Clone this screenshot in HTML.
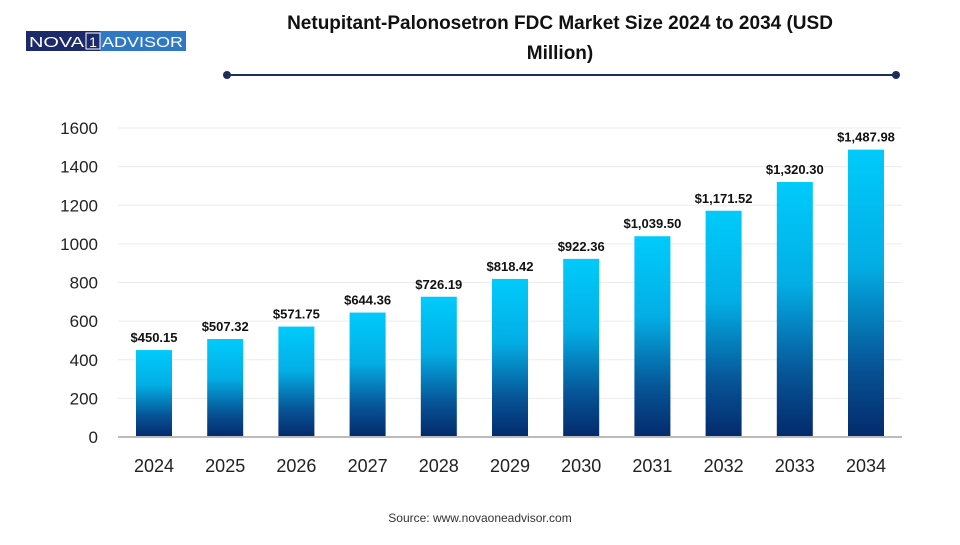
<!DOCTYPE html>
<html><head><meta charset="utf-8"><style>
body{margin:0;background:#fff;width:960px;height:540px;overflow:hidden;font-family:"Liberation Sans",Arial,sans-serif}
</style></head><body>
<svg width="960" height="540" viewBox="0 0 960 540">
<defs>
<linearGradient id="bg" x1="0" y1="0" x2="0" y2="1">
<stop offset="0" stop-color="#00cbfb"/><stop offset="0.4" stop-color="#03aee5"/><stop offset="0.75" stop-color="#065597"/><stop offset="1" stop-color="#042a6c"/>
</linearGradient>
</defs>
<g>
<rect x="26" y="31" width="74" height="20" fill="#1c2a6b"/>
<rect x="100" y="31" width="86" height="20" fill="#2f79c4"/>
<rect x="86" y="33" width="14" height="16" fill="none" stroke="#fff" stroke-width="1"/>
<text x="29" y="47" font-size="15" fill="#fff" textLength="55" lengthAdjust="spacingAndGlyphs">NOVA</text>
<text x="93" y="47" font-size="14" fill="#fff" text-anchor="middle">1</text>
<text x="102" y="47" font-size="15" fill="#fff" textLength="81" lengthAdjust="spacingAndGlyphs">ADVISOR</text>
</g>
<text x="560" y="29" text-anchor="middle" font-size="19" font-weight="bold" fill="#111">Netupitant-Palonosetron FDC Market Size 2024 to 2034 (USD</text>
<text x="560" y="59" text-anchor="middle" font-size="19" font-weight="bold" fill="#111">Million)</text>
<g>
<line x1="227" y1="75" x2="896" y2="75" stroke="#1f2d5a" stroke-width="2"/>
<circle cx="227" cy="75" r="4" fill="#1f2d5a"/><circle cx="896" cy="75" r="4" fill="#1f2d5a"/>
</g>
<g id="grid"></g><g id="bars"></g><g id="axes"></g>
<text x="480" y="522" text-anchor="middle" font-size="12" fill="#333">Source: www.novaoneadvisor.com</text>
</svg>
<script>
const years=["2024","2025","2026","2027","2028","2029","2030","2031","2032","2033","2034"];
const values=[450.15,507.32,571.75,644.36,726.19,818.42,922.36,1039.50,1171.52,1320.30,1487.98];
const valueLabels=["$450.15","$507.32","$571.75","$644.36","$726.19","$818.42","$922.36","$1,039.50","$1,171.52","$1,320.30","$1,487.98"];
const yTicks=[0,200,400,600,800,1000,1200,1400,1600];
const NS="http://www.w3.org/2000/svg";
const y0=437,y1=128,yMax=1600;
const y=v=>y0-(v/yMax)*(y0-y1);
const step=71.2,x=i=>154+i*step,bw=36;
function mk(t,a,p){const e=document.createElementNS(NS,t);for(const k in a)e.setAttribute(k,a[k]);p.appendChild(e);return e;}
const g=document.getElementById('grid'),b=document.getElementById('bars'),ax=document.getElementById('axes');
yTicks.forEach(v=>{
 if(v>0){const l=mk('line',{x1:118,x2:902,y1:y(v),y2:y(v),stroke:'#ececec','stroke-width':1},g);
 
 }
 const t=mk('text',{x:98,y:y(v)+6,'text-anchor':'end','font-size':17,fill:'#222'},ax);t.textContent=v;
 
 
});
const base=mk('line',{x1:118,x2:902,y1:y0,y2:y0,stroke:'#bbb','stroke-width':2},ax);


values.forEach((v,i)=>{
 const r=mk('rect',{x:x(i)-bw/2,y:y(v),width:bw,height:y0-y(v),fill:'url(#bg)'},b);
 
 
 const t=mk('text',{x:x(i),y:y(v)-8,'text-anchor':'middle','font-size':13,'font-weight':'bold',fill:'#111'},b);t.textContent=valueLabels[i];
 
 
 const yl=mk('text',{x:x(i),y:472,'text-anchor':'middle','font-size':18,fill:'#222'},ax);yl.textContent=years[i];
 
 
});
</script>
</body></html>
